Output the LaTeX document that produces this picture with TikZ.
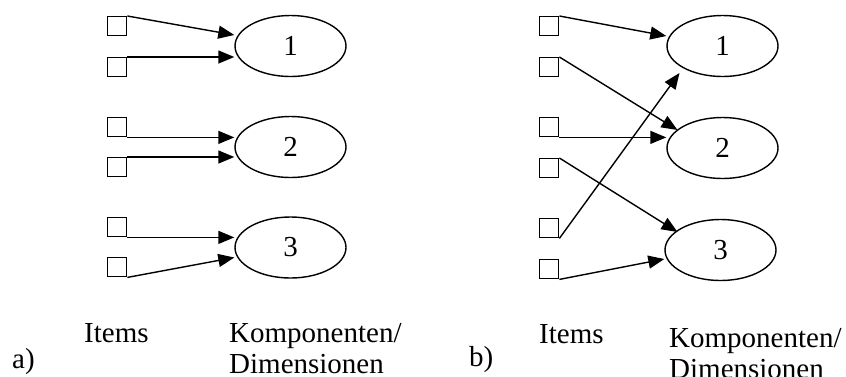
\documentclass[tikz,border=0pt]{standalone}
\usepackage{fontspec}
\setmainfont{Liberation Serif}
\usetikzlibrary{arrows.meta,shapes.geometric,calc}
\tikzset{
  item/.style={draw,rectangle,minimum size=19pt,inner sep=0pt,anchor=north west,line width=1.4pt},
  comp/.style={draw,ellipse,minimum width=111pt,minimum height=61pt,inner sep=0pt,line width=1.4pt,font=\fontsize{29}{31}\selectfont},
  conn/.style={line width=1.4pt,-{Triangle[length=16pt,width=13pt]}},
  lbl/.style={anchor=base west,inner sep=0pt,font=\fontsize{29}{31}\selectfont}
}
\begin{document}
\begin{tikzpicture}[x=1pt,y=-1pt]
\useasboundingbox (0,0) rectangle (846,376);
% left panel
\node[item] (la1) at (107,16) {};
\node[item] (la2) at (107,57) {};
\node[item] (la3) at (107,117) {};
\node[item] (la4) at (107,157) {};
\node[item] (la5) at (107,217) {};
\node[item] (la6) at (107,257) {};
\node[comp] (le1) at (290.5,46) {1};
\node[comp] (le2) at (290.5,147) {2};
\node[comp] (le3) at (290.5,247.5) {3};
\draw[conn] (la1.north east) -- ($(le1.west)+(0,-11)$);
\draw[conn] (la2.north east) -- (le1.west |- la2.north east);
\draw[conn] (la3.south east) -- (le2.west |- la3.south east);
\draw[conn] (la4.north east) -- (le2.west |- la4.north east);
\draw[conn] (la5.south east) -- (le3.west |- la5.south east);
\draw[conn] (la6.south east) -- ($(le3.west)+(0,10)$);
\node[lbl] (la) at (12,368) {a)};
\node[lbl] (litems) at (84,342) {Items};
\node[lbl] (lk) at (229,342) {Komponenten/};
\node[lbl] (ld) at (229,373) {Dimensionen};
% right panel
\node[item] (ra1) at (539,16) {};
\node[item] (ra2) at (539,57) {};
\node[item] (ra3) at (539,117) {};
\node[item] (ra4) at (539,158) {};
\node[item] (ra5) at (539,218) {};
\node[item] (ra6) at (539,259) {};
\node[comp] (re1) at (722.5,46) {1};
\node[comp] (re2) at (722.5,148) {2};
\node[comp] (re3) at (720.5,250) {3};
\draw[conn] (ra1.north east) -- ($(re1.west)+(0,-10)$);
\draw[conn] (ra2.north east) -- ($(re2.center)+(-45,-18)$);
\draw[conn] (ra3.south east) -- (re2.west |- ra3.south east);
\draw[conn] (ra4.north east) -- ($(re3.center)+(-43,-18)$);
\draw[conn] (ra5.south east) -- ($(re1.center)+(-43,27)$);
\draw[conn] (ra6.south east) -- ($(re3.west)+(0,9)$);
\node[lbl] (rb) at (469,366) {b)};
\node[lbl] (ritems) at (539,343) {Items};
\node[lbl] (rk) at (669,347) {Komponenten/};
\node[lbl] (rd) at (669,378) {Dimensionen};
\end{tikzpicture}
\end{document}
